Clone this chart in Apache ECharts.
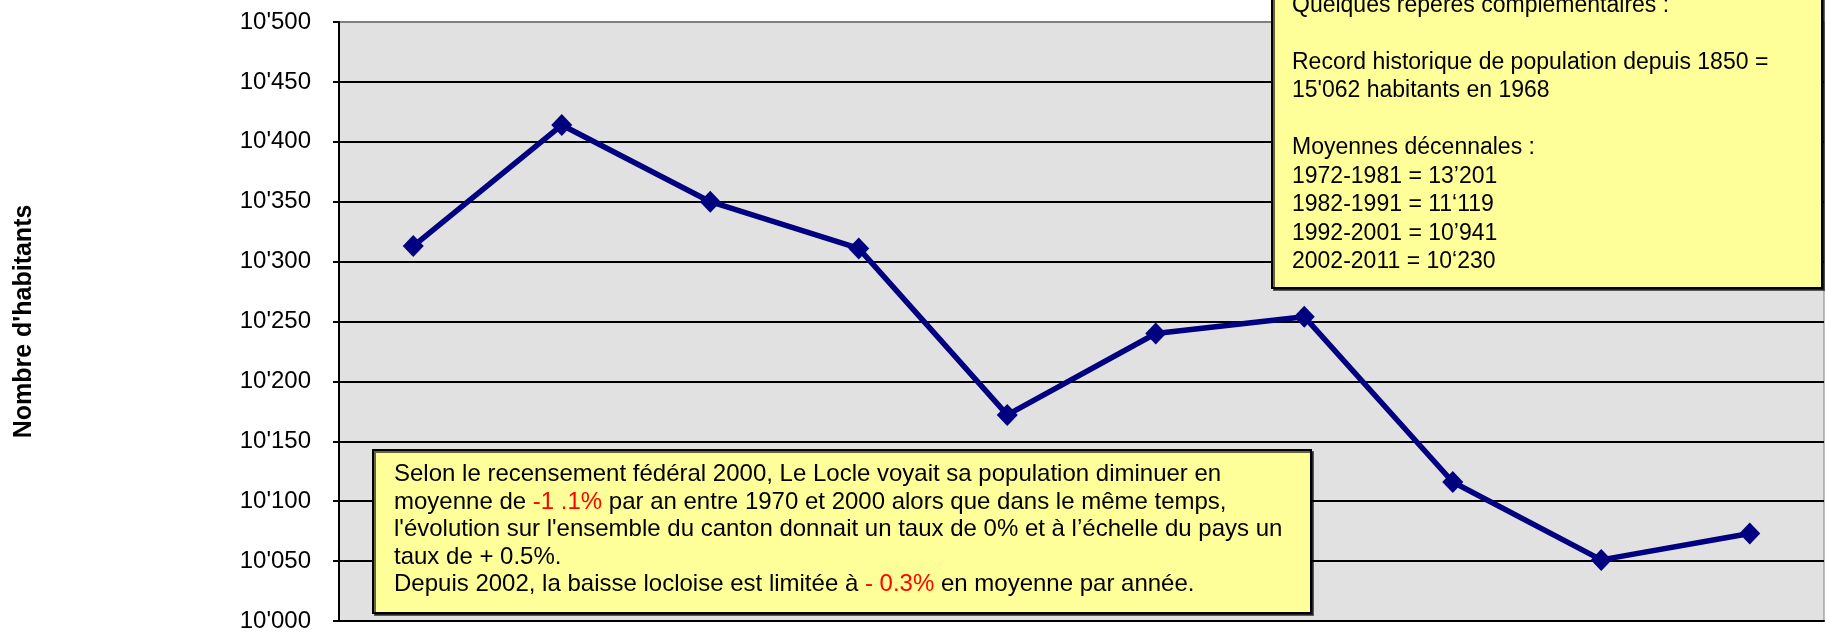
<!DOCTYPE html>
<html>
<head>
    <meta charset="utf-8" />
    <title>Population Le Locle</title>
    <script src="https://cdn.jsdelivr.net/npm/echarts@6/dist/echarts.min.js"></script>
    <style>
        html, body { margin: 0; padding: 0; background: #fff; }
        #main { width: 1826px; height: 634px; }
    </style>
</head>
<body>
    <div id="main"></div>
    <script type="text/javascript">
        // annees (libelles coupes dans l'original) et population
        var years = ['2002', '2003', '2004', '2005', '2006', '2007', '2008', '2009', '2010', '2011'];
        var habitants = [10313, 10414, 10350, 10311, 10172, 10240, 10254, 10116, 10051, 10073];

        var yMin = 10000, yMax = 10500, yStep = 50;
        var yTitle = "Nombre d'habitants";

        var noteTop = [
            'Quelques repères complémentaires :',
            '',
            'Record historique de population depuis 1850 =',
            "15'062 habitants en 1968",
            '',
            'Moyennes décennales :',
            '1972-1981 = 13’201',
            '1982-1991 = 11‘119',
            '1992-2001 = 10’941',
            '2002-2011 = 10‘230'
        ];
        var noteBottom = [
            'Selon le recensement fédéral 2000, Le Locle voyait sa population diminuer en',
            'moyenne de {r|-1 .1%} par an entre 1970 et 2000 alors que dans le même temps,',
            "l'évolution sur l'ensemble du canton donnait un taux de 0% et à l’échelle du pays un",
            'taux de + 0.5%.',
            'Depuis 2002, la baisse locloise est limitée à {r|- 0.3%} en moyenne par année.'
        ];

        function fmt(v) {
            var s = String(v);
            return s.length > 3 ? s.slice(0, s.length - 3) + "'" + s.slice(-3) : s;
        }

        var gridColors = [];
        for (var i = 0; i < (yMax - yMin) / yStep; i++) gridColors.push('#000');
        gridColors.push('#808080');

        var myChart = echarts.init(document.getElementById('main'));
        var option = {
            backgroundColor: '#fff',
            animation: false,
            textStyle: { fontFamily: 'Arial, "Liberation Sans", sans-serif' },
            grid: {
                left: 339, right: 2, top: 22, bottom: 13,
                show: true, backgroundColor: '#e1e1e1',
                borderColor: '#808080', borderWidth: 1
            },
            xAxis: {
                type: 'category',
                data: years,
                boundaryGap: true,
                axisLine: { lineStyle: { color: '#000', width: 2 } },
                axisTick: { show: false },
                axisLabel: { show: false }
            },
            yAxis: {
                type: 'value',
                min: yMin, max: yMax, interval: yStep,
                name: yTitle,
                nameLocation: 'middle',
                nameRotate: 90,
                nameGap: 302,
                nameTextStyle: { fontSize: 25, fontWeight: 'bold', color: '#000', fontFamily: 'Arial, "Liberation Sans", sans-serif' },
                axisLine: { show: true, lineStyle: { color: '#000', width: 2 } },
                axisTick: { show: true, length: 6, lineStyle: { color: '#000', width: 2 } },
                axisLabel: {
                    margin: 28, fontSize: 24, color: '#000',
                    formatter: fmt
                },
                splitLine: { show: true, lineStyle: { color: gridColors, width: 2 } }
            },
            series: [{
                type: 'line',
                data: habitants,
                symbol: 'diamond',
                symbolSize: [21, 22],
                lineStyle: { color: '#000080', width: 5.5 },
                itemStyle: { color: '#000080' },
                z: 3
            }],
            graphic: [
                {
                    type: 'rect', z: 100,
                    shape: { x: 1272, y: -10, width: 550, height: 298 },
                    style: { fill: '#ffff99', stroke: '#000', lineWidth: 2, shadowColor: 'rgba(0,0,0,0.6)', shadowOffsetX: 2, shadowOffsetY: 2 }
                },
                {
                    type: 'text', z: 101, x: 1292, y: -9,
                    style: {
                        text: noteTop.join('\n'),
                        font: '23px Arial, "Liberation Sans", sans-serif',
                        lineHeight: 28.5, fill: '#000'
                    }
                },
                {
                    type: 'rect', z: 100,
                    shape: { x: 373, y: 450, width: 938, height: 163 },
                    style: { fill: '#ffff99', stroke: '#000', lineWidth: 2, shadowColor: 'rgba(0,0,0,0.6)', shadowOffsetX: 2, shadowOffsetY: 2 }
                },
                {
                    type: 'text', z: 101, x: 394, y: 461,
                    style: {
                        text: noteBottom.join('\n'),
                        font: '24px Arial, "Liberation Sans", sans-serif',
                        lineHeight: 27.5, fill: '#000',
                        rich: { r: { fill: '#ff0000', fontSize: 24, lineHeight: 27.5 } }
                    }
                }
            ]
        };
        myChart.setOption(option);
    </script>
</body>
</html>
